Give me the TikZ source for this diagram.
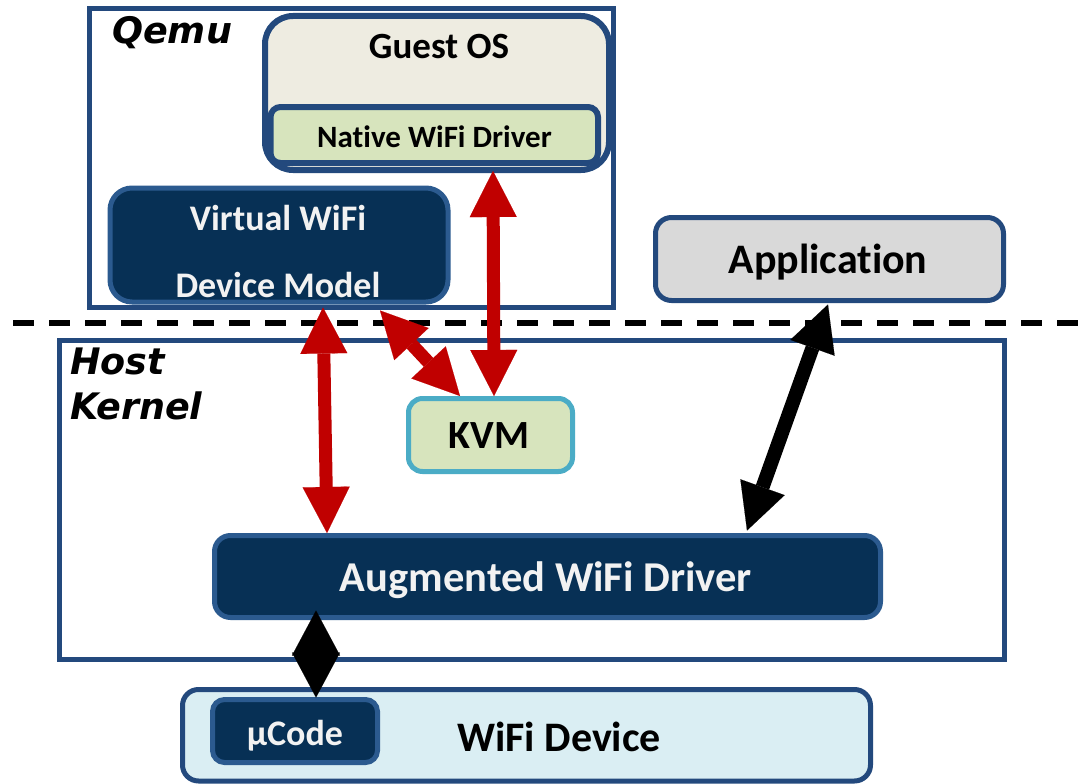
\documentclass[tikz,border=0pt]{standalone}
\usepackage{fontspec}
\setmainfont{Carlito}[Ligatures=NoCommon]
\newfontfamily\lblfont{DejaVu Sans}
\usetikzlibrary{arrows.meta}
\definecolor{navy}{HTML}{23497D}
\definecolor{darkfill}{HTML}{073055}
\definecolor{darkedge}{HTML}{2B5A8F}
\definecolor{guestfill}{HTML}{EEECE1}
\definecolor{greenfill}{HTML}{D7E4BD}
\definecolor{kvmedge}{HTML}{4BACC6}
\definecolor{appfill}{HTML}{D9D9D9}
\definecolor{devfill}{HTML}{DAEEF3}
\definecolor{arrowred}{HTML}{C00000}
\definecolor{lighttext}{HTML}{F2F2F2}
\tikzset{
  frame/.style={draw=navy, line width=5pt, inner sep=0pt, fill=white},
  rbox/.style={draw=navy, line width=5pt, inner sep=0pt, rounded corners=#1},
  dbox/.style={draw=darkedge, fill=darkfill, line width=5pt, inner sep=0pt, rounded corners=#1},
  txt/.style={inner sep=0pt, anchor=base, font=\bfseries\fontsize{#1}{#1}\selectfont},
  wtxt/.style={txt=#1, text=lighttext},
  ltxt/.style={inner sep=0pt, anchor=base west, font=\lblfont\bfseries\itshape\fontsize{36.5}{36.5}\selectfont},
  hdR/.tip={Triangle[length=46pt,width=47pt,line width=0.1pt]},
  hdD/.tip={Triangle[length=45pt,width=48pt,line width=0.1pt]},
  redarrow/.style={draw=arrowred, line width=13pt, hdR-hdR},
  blkarrow/.style={draw=black, line width=14pt, hdR-hdR},
  diaarrow/.style={draw=black, line width=1pt, hdD-hdD}
}
\begin{document}
\begin{tikzpicture}[x=1pt,y=-1pt]
\useasboundingbox[fill=white] (0,0) rectangle (1090,784);

% frames
\node[frame, minimum width=524pt, minimum height=299pt] (qemu) at (351.5,158) {};
\node[frame, minimum width=945pt, minimum height=319pt] (host) at (531.5,499.5) {};

% boxes
\node[rbox=28pt, fill=guestfill, line width=6pt, minimum width=344pt, minimum height=154pt] (guest) at (437,93) {};
\node[rbox=10pt, fill=greenfill, line width=6pt, minimum width=327.5pt, minimum height=56pt] (native) at (434.25,135) {};
\node[dbox=22pt, minimum width=338pt, minimum height=114pt] (vwifi) at (279,245) {};
\node[rbox=16pt, fill=appfill, minimum width=348pt, minimum height=83pt] (app) at (829.5,259) {};
\node[rbox=14pt, draw=kvmedge, fill=greenfill, minimum width=164pt, minimum height=73pt] (kvm) at (490.5,435) {};
\node[dbox=16pt, minimum width=666pt, minimum height=82pt] (aug) at (547.5,576.5) {};
\node[rbox=16pt, fill=devfill, minimum width=688pt, minimum height=91.5pt] (dev) at (526.5,735.25) {};
\node[dbox=12pt, minimum width=165pt, minimum height=63pt] (ucode) at (295,731) {};

% texts
\node[ltxt] (tqemu) at (112,44) {Qemu};
\node[ltxt] (thost) at (70,374) {Host};
\node[ltxt] (tkernel) at (70,419) {Kernel};
\node[txt=37] (tguest) at (439,59) {Guest OS};
\node[txt=31] (tnative) at (434.5,147) {Native WiFi Driver};
\node[wtxt=36] (tvw1) at (278,230) {Virtual WiFi};
\node[wtxt=36] (tvw2) at (278,297) {Device Model};
\node[txt=42] (tapp) at (828,273) {Application};
\node[txt=40] (tkvm) at (489,448) {KVM};
\node[wtxt=42.5] (taug) at (546,591) {Augmented WiFi Driver};
\node[wtxt=36] (tucode) at (295,745) {µCode};
\node[txt=42] (tdev) at (559,751) {WiFi Device};

% dashed separator
\coordinate (dashL) at (13,323);
\coordinate (dashR) at (1090,323);
\draw[black, line width=6pt, dash pattern=on 21pt off 15pt] (dashL) -- (dashR);

% connectors
\draw[redarrow] ([xshift=58.75pt,yshift=-5pt]native.south) -- ([xshift=3.5pt]kvm.north);
\draw[redarrow] ([xshift=44pt,yshift=-3pt]vwifi.south) -- ([xshift=-220.5pt]aug.north);
\draw[redarrow] ([xshift=101pt,yshift=-6pt]vwifi.south) -- ([xshift=-30.5pt]kvm.north);
\draw[blkarrow] ([xshift=-1.5pt,yshift=-1.5pt]app.south) -- ([xshift=199.5pt,yshift=2.5pt]aug.north);
\draw[diaarrow] ([xshift=-231.5pt,yshift=9.5pt]aug.south) -- ([xshift=21pt,yshift=-0.5pt]ucode.north);
\end{tikzpicture}
\end{document}
